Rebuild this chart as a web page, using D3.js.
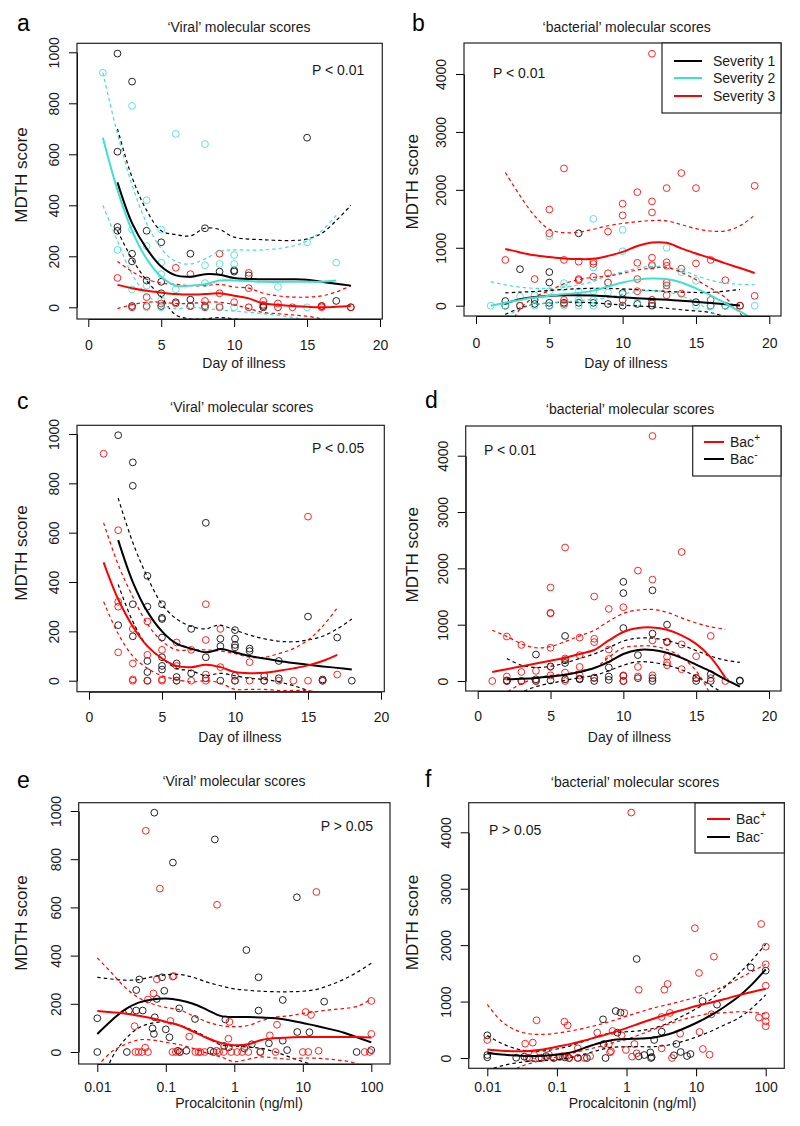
<!DOCTYPE html>
<html>
<head>
<meta charset="utf-8">
<script src="https://cdn.jsdelivr.net/npm/d3@7"></script>
<style>
body { margin: 0; background: #fff; }
svg { display: block; font-family: "Liberation Sans", Arial, sans-serif; }
</style>
</head>
<body>
<div id="chart"></div>
<script>
// ---- tick labels ----
var dayTicks = [0, 5, 10, 15, 20];
var pctTicks = [0.01, 0.1, 1, 10, 100];
var viralTicks = [0, 200, 400, 600, 800, 1000];
var bactTicks = [0, 1000, 2000, 3000, 4000];

// ---- panel a: viral score vs day, by severity ----
var aSev1 = [[2,995],[3,885],[2,610],[2,315],[2,300],[3,210],[3,180],[3,5],[4,300],[4,105],[5,255],[5,100],[5,55],[5,5],[6,20],[7,210],[7,30],[7,5],[8,310],[8,5],[9,140],[10,145],[10,140],[11,125],[12,5],[12,0],[15,665],[16,5],[17,25],[18,0]];
var aSev2 = [[1,920],[3,790],[6,680],[8,640],[4,420],[3,305],[5,305],[2,225],[4,240],[5,175],[5,130],[3,70],[4,85],[4,0],[5,30],[5,0],[6,70],[7,5],[8,165],[8,95],[8,0],[9,170],[9,5],[10,205],[10,170],[10,0],[11,0],[13,80],[13,0],[15,255],[15,0],[17,175]];
var aSev3 = [[2,115],[4,40],[6,155],[7,130],[8,25],[9,210],[9,55],[11,135],[11,75],[12,25],[13,15],[14,0],[16,5],[18,0],[5,15],[6,15],[7,5],[8,0],[9,0],[10,20],[11,0],[12,10],[16,0],[4,5],[3,0],[13,0]];
// smooth fits: [day, fit, lower, upper]
var aFit1 = [[2,490,300,700],[3,330,190,510],[4,230,105,380],[5,160,40,300],[6,125,-30,285],[7,120,-45,280],[8,130,-45,310],[9,128,-40,305],[10,115,-45,275],[12,110,-55,265],[14,110,-60,262],[15,108,-65,268],[16,100,-80,290],[17,92,-150,340],[18,85,-240,400]];
var aFit2 = [[1,665,400,920],[2,460,260,680],[3,300,130,480],[4,190,50,330],[5,120,10,230],[6,85,-5,180],[7,85,0,170],[8,90,-5,190],[9,105,-10,220],[10,105,-15,225],[12,100,-25,225],[14,100,-40,240],[15,100,-55,260],[16,100,-100,300],[17,105,-150,360]];
var aFit3 = [[2,88,-5,180],[3,75,10,140],[4,65,20,110],[5,58,20,95],[6,52,15,90],[7,50,15,85],[8,52,20,85],[9,55,20,90],[10,45,10,80],[11,35,-5,75],[12,15,-20,55],[13,10,-25,45],[14,5,-30,40],[15,2,-35,40],[16,0,-45,45],[17,2,-55,60],[18,5,-75,85]];

// ---- panel b: bacterial score vs day, by severity ----
var bSev1 = [[2,80],[2,0],[3,630],[4,100],[5,580],[5,400],[5,50],[5,0],[7,1250],[7,50],[8,50],[9,30],[10,220],[10,0],[11,30],[12,40],[12,0],[15,60],[16,0],[17,0],[18,0],[4,30],[6,50],[3,0]];
var bSev2 = [[1,0],[2,0],[3,160],[3,0],[4,180],[4,0],[5,1200],[5,250],[5,0],[6,390],[6,320],[6,0],[7,250],[7,0],[8,1500],[8,660],[8,250],[8,100],[8,0],[9,400],[9,230],[10,1310],[10,940],[10,200],[10,100],[11,50],[12,100],[13,1000],[13,280],[14,580],[15,430],[15,0],[16,0],[17,0],[19,0],[7,100],[12,680]];
var bSev3 = [[12,4350],[6,2370],[14,2290],[19,2070],[13,2030],[15,2030],[11,1960],[10,1760],[12,1800],[10,1560],[12,1610],[5,1660],[5,1250],[9,1280],[2,790],[6,790],[7,760],[8,760],[8,720],[11,740],[12,830],[12,700],[13,750],[13,690],[14,640],[15,730],[16,790],[4,460],[7,460],[7,440],[8,500],[9,560],[9,400],[11,460],[11,250],[12,100],[13,400],[13,350],[13,180],[14,210],[17,440],[16,100],[19,170],[18,0],[6,100],[6,30],[10,100],[3,0]];
var bFit1 = [[2,40,-150,220],[3,110,-40,235],[4,150,20,245],[6,180,60,280],[8,175,50,300],[10,145,10,290],[12,115,-20,260],[14,85,-70,235],[16,45,-120,230],[18,5,-270,280]];
var bFit2 = [[1,0,-400,415],[2,50,-200,360],[3,100,-60,320],[4,140,20,300],[5,170,50,300],[6,200,70,320],[7,220,90,360],[8,260,110,420],[9,330,140,520],[10,400,200,580],[11,450,240,650],[12,470,260,680],[13,460,240,670],[14,400,170,620],[15,300,60,520],[16,180,-90,440],[17,40,-290,390],[18,-100,-500,370],[19,-250,-800,360]];
var bFit3 = [[2,980,-500,2300],[3,920,-60,1900],[4,870,150,1550],[5,840,260,1320],[6,815,380,1260],[7,805,450,1270],[8,810,490,1320],[9,860,510,1380],[10,930,560,1420],[11,1030,616,1450],[12,1090,650,1470],[13,1085,660,1465],[14,990,575,1400],[15,900,450,1330],[16,820,300,1290],[17,730,140,1290],[18,650,-130,1380],[19,565,-450,1560]];

// ---- panel c: viral score vs day, Bac+ / Bac- ----
var cNeg = [[2,995],[3,885],[3,790],[4,425],[2,225],[3,310],[3,180],[4,300],[4,80],[4,35],[4,0],[5,310],[5,255],[5,250],[5,175],[5,95],[5,60],[5,45],[6,70],[6,15],[6,0],[7,210],[7,30],[8,640],[8,95],[8,10],[9,170],[9,140],[9,0],[10,205],[10,170],[10,145],[10,135],[10,20],[10,0],[11,130],[11,120],[12,20],[12,0],[13,80],[13,10],[15,260],[16,5],[16,0],[17,175],[18,0]];
var cPos = [[1,920],[2,610],[2,320],[2,300],[2,115],[3,210],[3,70],[3,0],[3,5],[4,240],[4,105],[4,0],[5,125],[5,5],[5,0],[6,155],[6,60],[6,0],[7,125],[7,0],[8,310],[8,165],[8,25],[8,0],[9,210],[9,55],[10,0],[11,75],[11,0],[12,0],[13,0],[14,0],[15,665],[15,0],[16,0],[17,25]];
var cFitNeg = [[2,570,390,740],[3,400,240,560],[4,280,140,420],[5,200,90,310],[6,150,50,250],[7,130,40,220],[8,115,20,210],[8.5,120,25,220],[9,128,30,225],[10,115,20,205],[11,100,10,185],[12,90,5,170],[13,80,-5,160],[14,72,-20,158],[15,65,-40,165],[16,58,-60,180],[17,52,-100,210],[18,45,-140,250]];
var cFitPos = [[1,480,320,640],[2,330,190,470],[3,220,100,340],[4,140,50,230],[5,90,20,160],[6,60,5,125],[7,55,-5,125],[8,65,0,125],[9,55,-10,120],[10,35,-35,110],[11,30,-35,95],[12,32,-35,95],[13,40,-40,110],[14,50,-40,130],[15,62,-40,165],[16,80,-55,220],[17,105,-90,295]];

// ---- panel d: bacterial score vs day, Bac+ / Bac- ----
var dPos = [[12,4350],[6,2370],[14,2290],[11,1960],[12,1800],[5,1660],[8,1500],[9,1280],[10,1310],[5,1210],[5,1200],[2,790],[3,640],[5,590],[7,770],[8,750],[8,690],[16,800],[12,720],[13,700],[14,650],[15,440],[9,560],[9,390],[6,400],[7,460],[7,250],[5,250],[4,180],[3,160],[2,80],[1,0],[6,150],[6,0],[7,100],[5,100],[11,250],[11,80],[12,100],[13,430],[13,330],[13,280],[14,210],[15,60],[16,50],[17,0],[10,100],[10,0],[8,50],[4,0],[3,0],[2,0]];
var dNeg = [[10,1760],[10,1560],[12,1610],[10,940],[13,1000],[12,840],[13,690],[6,800],[4,470],[11,460],[9,240],[5,260],[6,320],[6,370],[10,90],[10,0],[9,80],[9,20],[11,50],[12,50],[12,0],[8,60],[8,0],[7,30],[7,40],[6,30],[5,10],[4,30],[4,0],[3,0],[2,10],[2,0],[15,0],[15,50],[16,0],[16,120],[18,10],[18,0]];
var dFitPos = [[1,160,-400,900],[2,210,-200,790],[3,260,-50,660],[4,310,50,590],[5,360,100,610],[6,410,120,700],[7,480,180,800],[8,550,230,900],[9,720,420,1060],[10,870,590,1200],[11,940,620,1260],[12,950,620,1270],[13,910,560,1220],[14,810,420,1120],[15,660,180,1030],[16,420,-250,960],[17,60,-800,920]];
var dFitNeg = [[2,30,-340,400],[3,40,-200,280],[4,55,-100,240],[5,80,-40,260],[6,110,10,320],[7,160,60,400],[8,230,100,480],[9,340,180,590],[10,480,280,710],[11,550,340,760],[12,550,330,760],[13,500,280,720],[14,410,200,640],[15,290,80,540],[16,170,-80,440],[17,30,-250,370],[18,-100,-500,330]];

// ---- panel e: viral score vs procalcitonin (ng/ml) ----
var ePos = [[0.051,918],[0.082,678],[0.56,611],[15.8,664],[0.074,302],[0.13,315],[0.126,313],[0.066,243],[0.055,218],[0.035,107],[0.117,129],[0.22,64],[0.85,125],[0.82,55],[3.3,69],[4.2,113],[11,166],[13.2,154],[100,212],[100,75],[0.05,18],[0.036,0],[0.04,0],[0.045,0],[0.055,0],[0.125,0],[0.14,0],[0.16,0],[0.27,0],[0.3,0],[0.32,0],[0.37,0],[0.55,5],[0.6,0],[0.7,0],[0.9,0],[1.1,0],[1.3,0],[1.6,0],[2.4,0],[4,0],[10,0],[12,0],[17,5],[80,0],[95,0]];
var eNeg = [[0.068,993],[0.52,882],[0.127,786],[1.5,423],[8.2,642],[2.26,310],[2.26,172],[5.1,216],[20.5,209],[0.041,301],[0.088,310],[0.095,254],[0.037,257],[0.029,172],[0.037,172],[0.046,172],[0.069,144],[0.074,220],[0.157,181],[0.267,137],[0.064,98],[0.067,75],[0.1,94],[0.113,61],[0.01,140],[0.01,0],[0.027,0],[0.15,5],[0.16,0],[0.2,5],[0.45,5],[0.5,0],[0.74,135],[0.83,19],[0.71,25],[1.4,15],[1.8,32],[2.4,0],[3.2,36],[5.1,47],[5.9,8],[12.5,82],[8.3,83],[61,0],[100,8]];
var eFitNeg = [[0.01,75,-200,310],[0.016,130,-30,303],[0.025,175,50,298],[0.04,205,100,300],[0.063,218,120,312],[0.1,222,125,320],[0.16,215,110,322],[0.25,200,90,310],[0.4,175,60,290],[0.63,150,30,275],[1,145,25,262],[1.6,145,20,256],[2.5,143,15,252],[4,140,0,250],[6.3,132,-20,250],[10,120,-40,252],[16,108,-60,260],[25,95,-90,278],[40,80,-120,302],[63,60,-200,332],[100,40,-300,368]];
var eFitPos = [[0.01,170,-60,390],[0.016,165,0,330],[0.025,160,30,270],[0.04,150,50,225],[0.063,140,50,200],[0.1,125,40,185],[0.16,110,30,175],[0.25,85,15,150],[0.4,58,-5,125],[0.63,38,-20,110],[1,28,-40,105],[1.6,32,-30,110],[2.5,50,-20,130],[4,58,-25,145],[6.3,60,-30,150],[10,62,-25,160],[25,62,-30,175],[63,62,-50,190],[100,60,-90,220]];

// ---- panel f: bacterial score vs procalcitonin (ng/ml) ----
var fPos = [[1.17,4350],[86,2375],[9.6,2300],[18,1796],[100,1973],[100,1660],[11,1507],[1.5,1211],[3.9,1312],[3.5,1211],[100,1282],[80,715],[100,750],[100,650],[100,561],[4.2,798],[3.2,727],[0.93,798],[0.63,479],[0.051,668],[0.128,644],[0.143,579],[0.38,449],[0.01,319],[0.035,254],[0.045,272],[16.6,775],[11.2,461],[5.9,431],[3.2,171],[1.3,248],[0.85,402],[0.56,248],[0.98,142],[0.58,100],[12.5,160],[15.6,59],[1.2,24],[1.4,83],[0.2,171],[0.14,35],[0.12,35],[0.077,59],[0.047,53],[0.037,0],[0.055,0],[0.09,0],[0.15,0],[0.2,0],[0.3,30],[0.6,120],[0.25,0],[4.5,0]];
var fNeg = [[1.4,1755],[61,1607],[100,1548],[12.4,1010],[20,945],[0.46,685],[0.7,833],[0.82,804],[0.74,449],[2.5,319],[3.2,467],[0.01,402],[0.01,53],[0.01,12],[0.026,5],[0.04,0],[0.06,0],[0.09,0],[0.15,0],[0.27,0],[0.5,0],[1.5,30],[1.8,53],[2.2,100],[2.3,18],[4.8,47],[5.2,248],[6,106],[7.4,35],[8.3,71],[0.47,248],[0.034,24],[0.07,35],[0.11,20],[0.13,10],[0.2,0],[2.25,0]];
var fFitPos = [[0.01,150,-640,950],[0.016,130,-380,650],[0.025,120,-200,500],[0.04,125,-100,430],[0.063,150,-40,420],[0.1,200,20,440],[0.16,250,80,480],[0.25,310,140,530],[0.4,380,200,590],[0.63,450,270,660],[1,530,330,740],[1.6,620,420,820],[2.5,700,510,890],[4,780,600,950],[6.3,850,680,1010],[10,920,740,1080],[16,980,790,1170],[25,1040,800,1270],[40,1110,820,1400],[63,1170,810,1530],[100,1225,780,1660]];
var fFitNeg = [[0.01,92,-220,400],[0.016,60,-140,260],[0.025,45,-90,170],[0.04,35,-60,120],[0.063,40,-50,125],[0.1,60,-30,160],[0.16,100,10,220],[0.25,180,70,300],[0.4,260,140,390],[0.63,320,190,450],[1,335,200,465],[1.6,345,200,485],[2.5,365,200,530],[4,420,230,620],[6.3,510,290,740],[10,620,370,870],[16,750,470,1030],[25,900,580,1240],[40,1080,700,1480],[63,1300,880,1730],[100,1570,1120,2020]];

var BLACK = "#000000", CYAN = "#40E0D0", RED = "#FF0000";

var svgWidth = 800, svgHeight = 1126;
var svg = d3.select("#chart").append("svg")
  .attr("width", svgWidth)
  .attr("height", svgHeight);

// layout of each panel: box = [left, right, top, bottom], xr/yr = pixel positions of first & last tick
var panels = [
  { id: "a", letter: [17, 31], title: "\u2018Viral\u2019 molecular scores", titleAt: [239, 32],
    box: [77, 382.3, 43.3, 319], xr: [88.3, 380], yr: [307.3, 52.3], log: false, yTicks: viralTicks,
    xTickY: 350, xlab: "Day of illness", xlabAt: [244, 368], ylabAt: [26.5, 175],
    p: "P < 0.01", pAt: [312, 75],
    groups: [
      { pts: aSev1, fit: aFit1, color: BLACK },
      { pts: aSev2, fit: aFit2, color: CYAN },
      { pts: aSev3, fit: aFit3, color: RED }
    ] },
  { id: "b", letter: [412, 31], title: "\u2018bacterial\u2019 molecular scores", titleAt: [626.7, 32],
    box: [464, 781, 43, 316], xr: [476, 769.3], yr: [305.7, 74], log: false, yTicks: bactTicks,
    xTickY: 348, xlab: "Day of illness", xlabAt: [626, 368], ylabAt: [418, 181.7],
    p: "P < 0.01", pAt: [493, 78],
    legend: { box: [662, 781, 43, 113], line: [674, 702], textX: 713,
      items: [{ label: "Severity 1", color: BLACK, y: 61 }, { label: "Severity 2", color: CYAN, y: 78 }, { label: "Severity 3", color: RED, y: 96 }] },
    groups: [
      { pts: bSev1, fit: bFit1, color: BLACK },
      { pts: bSev2, fit: bFit2, color: CYAN },
      { pts: bSev3, fit: bFit3, color: RED }
    ] },
  { id: "c", letter: [17, 409], title: "\u2018Viral\u2019 molecular scores", titleAt: [241.7, 411.7],
    box: [77, 384.3, 425.3, 691.7], xr: [89, 381], yr: [680.7, 434], log: false, yTicks: viralTicks,
    xTickY: 722, xlab: "Day of illness", xlabAt: [240, 742], ylabAt: [26.5, 553],
    p: "P < 0.05", pAt: [312, 453],
    groups: [
      { pts: cNeg, fit: cFitNeg, color: BLACK },
      { pts: cPos, fit: cFitPos, color: RED }
    ] },
  { id: "d", letter: [425, 408], title: "\u2018bacterial\u2019 molecular scores", titleAt: [630, 414],
    box: [465.7, 781, 426, 691], xr: [477.7, 769], yr: [681, 455.7], log: false, yTicks: bactTicks,
    xTickY: 721, xlab: "Day of illness", xlabAt: [629.5, 742], ylabAt: [418, 554.7],
    p: "P < 0.01", pAt: [484, 455],
    legend: { box: [692.7, 781, 426, 476], line: [704, 724], textX: 730,
      items: [{ label: "Bac", sup: "+", color: RED, y: 442 }, { label: "Bac", sup: "-", color: BLACK, y: 459 }] },
    groups: [
      { pts: dNeg, fit: dFitNeg, color: BLACK },
      { pts: dPos, fit: dFitPos, color: RED }
    ] },
  { id: "e", letter: [17, 788], title: "\u2018Viral\u2019 molecular scores", titleAt: [234, 786],
    box: [78.7, 390, 802.7, 1064], xr: [97.3, 371.3], yr: [1052, 811], log: true, yTicks: viralTicks,
    xTickY: 1092, xlab: "Procalcitonin (ng/ml)", xlabAt: [239, 1108], ylabAt: [26.5, 923],
    p: "P > 0.05", pAt: [320.7, 830.7],
    groups: [
      { pts: eNeg, fit: eFitNeg, color: BLACK },
      { pts: ePos, fit: eFitPos, color: RED }
    ] },
  { id: "f", letter: [425, 787], title: "\u2018bacterial\u2019 molecular scores", titleAt: [635, 786.7],
    box: [468.7, 784.3, 802.7, 1068.3], xr: [487.3, 765.7], yr: [1058, 832.3], log: true, yTicks: bactTicks,
    xTickY: 1092, xlab: "Procalcitonin (ng/ml)", xlabAt: [632.5, 1108], ylabAt: [418, 922.5],
    p: "P > 0.05", pAt: [489, 835],
    legend: { box: [695, 784.3, 803, 853], line: [707, 730], textX: 736,
      items: [{ label: "Bac", sup: "+", color: RED, y: 819 }, { label: "Bac", sup: "-", color: BLACK, y: 837 }] },
    groups: [
      { pts: fNeg, fit: fFitNeg, color: BLACK },
      { pts: fPos, fit: fFitPos, color: RED }
    ] }
];

var TEXT = "#1a1a1a";

panels.forEach(function(p) {
  var g = svg.append("g");
  var b = p.box;

  var x = p.log
    ? d3.scaleLog().domain([0.01, 100]).range(p.xr)
    : d3.scaleLinear().domain([0, 20]).range(p.xr);
  var y = d3.scaleLinear().domain([0, p.yTicks[p.yTicks.length - 1]]).range(p.yr);

  // clip for the curves
  g.append("clipPath").attr("id", "clip-" + p.id)
    .append("rect")
    .attr("x", b[0]).attr("y", b[2])
    .attr("width", b[1] - b[0]).attr("height", b[3] - b[2]);

  // panel letter, title
  g.append("text").attr("x", p.letter[0]).attr("y", p.letter[1])
    .attr("font-size", 23).attr("fill", "#000").text(p.id);
  g.append("text").attr("x", p.titleAt[0]).attr("y", p.titleAt[1])
    .attr("text-anchor", "middle").attr("font-size", 14).attr("fill", TEXT).text(p.title);

  // axes
  var xAxis = d3.axisBottom(x).tickValues(p.log ? pctTicks : dayTicks)
    .tickFormat(function(d) { return String(d); })
    .tickSize(8).tickSizeOuter(0);
  var gx = g.append("g").attr("transform", "translate(0," + b[3] + ")").call(xAxis);
  gx.attr("font-size", 14).attr("font-family", null);
  gx.selectAll("text").attr("y", p.xTickY - b[3]).attr("dy", 0).attr("fill", TEXT);

  var yAxis = d3.axisLeft(y).tickValues(p.yTicks)
    .tickFormat(function(d) { return String(d); })
    .tickSize(8).tickSizeOuter(0);
  var gy = g.append("g").attr("transform", "translate(" + b[0] + ",0)").call(yAxis);
  gy.attr("font-size", 14).attr("font-family", null);
  gy.selectAll("text")
    .attr("transform", "rotate(-90)")
    .attr("x", 0).attr("y", -18).attr("dy", 0)
    .attr("text-anchor", "middle").attr("fill", TEXT);

  // axis labels
  g.append("text").attr("x", p.xlabAt[0]).attr("y", p.xlabAt[1])
    .attr("text-anchor", "middle").attr("font-size", 14).attr("fill", TEXT).text(p.xlab);
  g.append("text")
    .attr("transform", "translate(" + p.ylabAt[0] + "," + p.ylabAt[1] + ") rotate(-90)")
    .attr("text-anchor", "middle").attr("font-size", 17).attr("fill", TEXT).text("MDTH score");

  // points
  p.groups.forEach(function(s) {
    g.append("g").selectAll("circle")
      .data(s.pts)
      .enter()
      .append("circle")
      .attr("cx", function(d) { return x(d[0]); })
      .attr("cy", function(d) { return y(d[1]); })
      .attr("r", 3.4)
      .attr("fill", "none")
      .attr("stroke", s.color)
      .attr("stroke-opacity", 0.85)
      .attr("stroke-width", 1);
  });

  // smooth fits + confidence bands
  var lines = g.append("g").attr("clip-path", "url(#clip-" + p.id + ")");
  p.groups.forEach(function(s) {
    [3, 2].forEach(function(k) {
      var band = d3.line()
        .x(function(d) { return x(d[0]); })
        .y(function(d) { return y(d[k]); })
        .curve(d3.curveCatmullRom.alpha(0.5));
      lines.append("path").datum(s.fit)
        .attr("d", band)
        .attr("fill", "none")
        .attr("stroke", s.color)
        .attr("stroke-width", 1.2)
        .attr("stroke-dasharray", "3.5,3");
    });
  });
  p.groups.forEach(function(s) {
    var fit = d3.line()
      .x(function(d) { return x(d[0]); })
      .y(function(d) { return y(d[1]); })
      .curve(d3.curveCatmullRom.alpha(0.5));
    lines.append("path").datum(s.fit)
      .attr("d", fit)
      .attr("fill", "none")
      .attr("stroke", s.color)
      .attr("stroke-width", 2);
  });

  // frame
  g.append("rect")
    .attr("x", b[0]).attr("y", b[2])
    .attr("width", b[1] - b[0]).attr("height", b[3] - b[2])
    .attr("fill", "none").attr("stroke", "#222").attr("stroke-width", 1.2);

  // P value
  g.append("text").attr("x", p.pAt[0]).attr("y", p.pAt[1])
    .attr("font-size", 14).attr("fill", TEXT).text(p.p);

  // legend
  if (p.legend) {
    var L = p.legend;
    g.append("rect")
      .attr("x", L.box[0]).attr("y", L.box[2])
      .attr("width", L.box[1] - L.box[0]).attr("height", L.box[3] - L.box[2])
      .attr("fill", "#fff").attr("stroke", "#222").attr("stroke-width", 1.2);
    L.items.forEach(function(it) {
      g.append("line")
        .attr("x1", L.line[0]).attr("x2", L.line[1])
        .attr("y1", it.y).attr("y2", it.y)
        .attr("stroke", it.color).attr("stroke-width", 2);
      var t = g.append("text").attr("x", L.textX).attr("y", it.y + 5)
        .attr("font-size", 14).attr("fill", TEXT).text(it.label);
      if (it.sup) {
        t.append("tspan").attr("dy", -6).attr("font-size", 10).text(it.sup);
      }
    });
  }
});
</script>
</body>
</html>
